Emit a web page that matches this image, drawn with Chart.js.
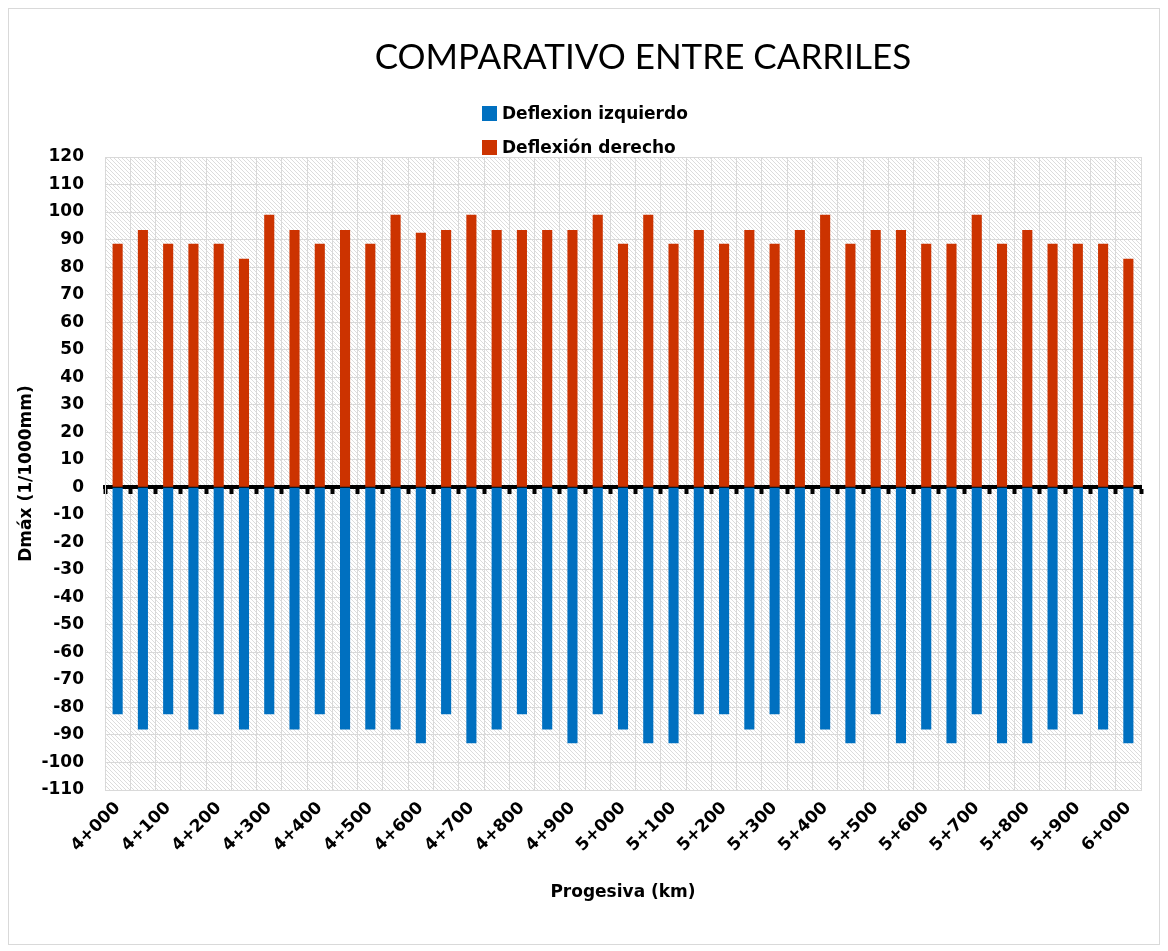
<!DOCTYPE html>
<html>
<head>
<meta charset="utf-8">
<script src="https://cdn.jsdelivr.net/npm/chart.js@4.4.0/dist/chart.umd.min.js"></script>
<style>
    html, body { margin: 0; padding: 0; background: #fff; }
    #wrap { position: relative; width: 1168px; height: 951px; }
    #frame { position: absolute; left: 8px; top: 8px; width: 1152px; height: 937px; border: 1px solid #d9d9d9; box-sizing: border-box; pointer-events: none; }
    #title { position: absolute; left: 343px; width: 600px; top: 34px; text-align: center; font: 35px Lato, sans-serif; color: #000; line-height: 42px; }
    #legend { position: absolute; left: 482px; top: 102px; font: bold 17px "DejaVu Sans", sans-serif; color: #000; }
    #legend .item { display: flex; align-items: center; height: 22px; margin-bottom: 12px; }
    #legend .box { width: 15px; height: 15px; margin-right: 5px; }
</style>
</head>
<body>
<div id="wrap">
    <canvas id="chart" width="1168" height="951"></canvas>
    <div id="frame"></div>
    <div id="title">COMPARATIVO ENTRE CARRILES</div>
    <div id="legend"></div>
</div>
<script>
const progresivas = [
    '4+000', '4+050', '4+100', '4+150', '4+200', '4+250', '4+300', '4+350', '4+400', '4+450',
    '4+500', '4+550', '4+600', '4+650', '4+700', '4+750', '4+800', '4+850', '4+900', '4+950',
    '5+000', '5+050', '5+100', '5+150', '5+200', '5+250', '5+300', '5+350', '5+400', '5+450',
    '5+500', '5+550', '5+600', '5+650', '5+700', '5+750', '5+800', '5+850', '5+900', '5+950',
    '6+000'
];

const deflexionIzquierdo = [
    -82.5, -88, -82.5, -88, -82.5, -88, -82.5, -88, -82.5, -88,
    -88, -88, -93, -82.5, -93, -88, -82.5, -88, -93, -82.5,
    -88, -93, -93, -82.5, -82.5, -88, -82.5, -93, -88, -93,
    -82.5, -93, -88, -93, -82.5, -93, -93, -88, -82.5, -88,
    -93
];

const deflexionDerecho = [
    88.5, 93.5, 88.5, 88.5, 88.5, 83, 99, 93.5, 88.5, 93.5,
    88.5, 99, 92.5, 93.5, 99, 93.5, 93.5, 93.5, 93.5, 99,
    88.5, 99, 88.5, 93.5, 88.5, 93.5, 88.5, 93.5, 99, 88.5,
    93.5, 93.5, 88.5, 88.5, 99, 88.5, 93.5, 88.5, 88.5, 88.5,
    83
];

const yMin = -110;
const yMax = 120;
const yStep = 10;

const tickFont = { family: 'DejaVu Sans', size: 17, weight: 'bold' };

// fondo rayado del area de trazado
function makePattern() {
    const c = document.createElement('canvas');
    c.width = 8;
    c.height = 8;
    const g = c.getContext('2d');
    g.fillStyle = '#ffffff';
    g.fillRect(0, 0, 8, 8);
    g.fillStyle = '#dcdcdc';
    for (let y = 0; y < 8; y++) {
        for (let x = 0; x < 8; x++) {
            if ((x - y + 8) % 4 === 0) g.fillRect(x, y, 1, 1);
        }
    }
    return g.createPattern(c, 'repeat');
}

const plotBackground = {
    id: 'plotBackground',
    beforeDraw(chart) {
        const { ctx, chartArea } = chart;
        ctx.save();
        ctx.fillStyle = makePattern();
        ctx.fillRect(chartArea.left, chartArea.top, chartArea.right - chartArea.left, chartArea.bottom - chartArea.top);
        ctx.restore();
    }
};

const ctx = document.getElementById('chart').getContext('2d');
const chart = new Chart(ctx, {
    type: 'bar',
    data: {
        labels: progresivas,
        datasets: [{
            label: 'Deflexion izquierdo',
            data: deflexionIzquierdo,
            backgroundColor: '#0070c0',
            categoryPercentage: 0.8,
            barPercentage: 0.5
        }, {
            label: 'Deflexión derecho',
            data: deflexionDerecho,
            backgroundColor: '#cc3300',
            categoryPercentage: 0.8,
            barPercentage: 0.5
        }]
    },
    options: {
        responsive: false,
        animation: false,
        layout: { padding: { top: 157, left: 10, right: 27, bottom: 11 } },
        plugins: {
            legend: { display: false },
            tooltip: { enabled: false },
            title: { display: false }
        },
        scales: {
            x: {
                stacked: true,
                offset: true,
                grid: { offset: true, color: '#d9d9d9', drawTicks: false },
                border: { color: '#d9d9d9' },
                ticks: {
                    autoSkip: false,
                    maxRotation: 45,
                    minRotation: 45,
                    padding: 8,
                    color: '#000',
                    font: tickFont,
                    callback: (v, i) => (i % 2 === 0 ? progresivas[i] : '')
                },
                title: {
                    display: true,
                    text: 'Progesiva (km)',
                    color: '#000',
                    font: tickFont,
                    padding: { top: 4, bottom: 37 }
                },
                afterFit: s => { s.height = 150; }
            },
            x0: {
                type: 'category',
                position: { y: 0 },
                offset: true,
                grid: { offset: true, drawOnChartArea: false, drawTicks: true, tickLength: 5, tickWidth: 4, tickColor: '#000' },
                border: { display: true, color: '#000', width: 4 },
                ticks: { display: false },
                afterFit: s => { s.height = 0; }
            },
            y: {
                stacked: true,
                min: yMin,
                max: yMax,
                grid: { color: '#d9d9d9', drawTicks: false },
                border: { color: '#d9d9d9' },
                ticks: { stepSize: yStep, padding: 21, color: '#000', font: tickFont },
                title: {
                    display: true,
                    text: 'Dmáx (1/1000mm)',
                    color: '#000',
                    font: tickFont,
                    padding: { top: 6, bottom: 6 }
                },
                afterFit: s => { s.width = 95; }
            }
        }
    },
    plugins: [plotBackground]
});

// leyenda vertical como en el original
const legendEl = document.getElementById('legend');
chart.data.datasets.forEach(ds => {
    const item = document.createElement('div');
    item.className = 'item';
    item.innerHTML = `<span class="box" style="background:${ds.backgroundColor}"></span><span>${ds.label}</span>`;
    legendEl.appendChild(item);
});
</script>
</body>
</html>
